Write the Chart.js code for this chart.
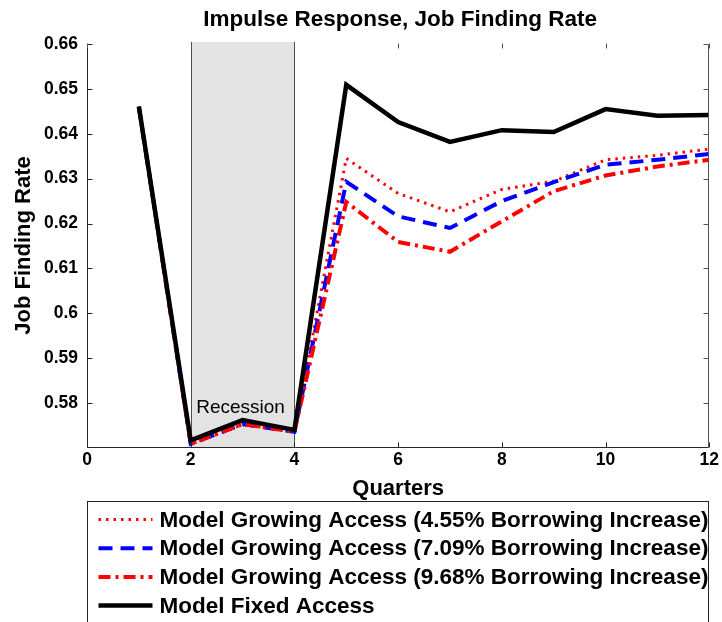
<!DOCTYPE html>
<html lang="en">
<head>
<meta charset="UTF-8">
<title>Impulse Response, Job Finding Rate</title>
<script src="https://cdn.jsdelivr.net/npm/chart.js"></script>
<style>
  html, body { margin: 0; padding: 0; background: #fff; }
  canvas { display: block; }
</style>
</head>
<body>
<canvas id="chartJFR" width="722" height="622"></canvas>
<script>
// values
const quarters    = [1, 2, 3, 4, 5, 6, 7, 8, 9, 10, 11, 12];
const growing455  = [0.6460, 0.5708, 0.5752, 0.5736, 0.6345, 0.6267, 0.6226, 0.6276, 0.6294, 0.6342, 0.6352, 0.6366];
const growing709  = [0.6460, 0.5709, 0.5753, 0.5736, 0.6293, 0.6216, 0.6190, 0.6250, 0.6292, 0.6331, 0.6342, 0.6355];
const growing968  = [0.6460, 0.5709, 0.5753, 0.5736, 0.6248, 0.6159, 0.6137, 0.6205, 0.6272, 0.6307, 0.6327, 0.6342];
const fixedAccess = [0.6461, 0.5717, 0.5762, 0.5740, 0.6509, 0.6426, 0.6382, 0.6408, 0.6404, 0.6455, 0.6440, 0.6442];
const xTicks = [0, 2, 4, 6, 8, 10, 12];
const yTicks = [0.58, 0.59, 0.6, 0.61, 0.62, 0.63, 0.64, 0.65, 0.66];
const recession = [2, 4];
const chartTitle = 'Impulse Response, Job Finding Rate';

const FONT = '"Liberation Sans", Arial, Helvetica, sans-serif';

const pts = arr => quarters.map((q, i) => ({ x: q, y: arr[i] }));

// shading, box, inward ticks, title over the axes and the boxed legend (MATLAB look)
const matlabFrame = {
    id: 'matlabFrame',
    beforeDatasetsDraw(chart) {
        const { ctx, chartArea: a, scales: { x, y } } = chart;
        const x0 = Math.round(x.getPixelForValue(recession[0])) + 0.5;
        const x1 = Math.round(x.getPixelForValue(recession[1])) + 0.5;
        ctx.save();
        ctx.fillStyle = '#e3e3e3';
        ctx.fillRect(x0, a.top - 2, x1 - x0, a.bottom - a.top + 2);
        ctx.strokeStyle = '#4d4d4d';
        ctx.lineWidth = 1;
        ctx.beginPath();
        ctx.moveTo(x0, a.top - 2); ctx.lineTo(x0, a.bottom);
        ctx.moveTo(x1, a.top - 2); ctx.lineTo(x1, a.bottom);
        ctx.stroke();
        ctx.fillStyle = '#000';
        ctx.font = '19px ' + FONT;
        ctx.textAlign = 'center';
        ctx.textBaseline = 'middle';
        ctx.fillText('Recession', x.getPixelForValue(3) - 2, y.getPixelForValue(0.5789));
        ctx.restore();
    },
    afterDraw(chart) {
        const { ctx, chartArea: a, scales: { x, y } } = chart;
        const L = Math.round(a.left) + 0.5, R = Math.round(a.right) - 0.5;
        const T = Math.round(a.top) + 0.5, B = Math.round(a.bottom) + 0.5;
        const tl = 5;
        ctx.save();

        // title, centred over the plot box
        ctx.fillStyle = '#000';
        ctx.font = 'bold 22.5px ' + FONT;
        ctx.textAlign = 'center';
        ctx.textBaseline = 'middle';
        ctx.fillText(chartTitle, (a.left + a.right) / 2 + 2, 20);

        ctx.lineWidth = 1;
        ctx.strokeStyle = '#262626';
        ctx.beginPath();
        ctx.moveTo(L, T); ctx.lineTo(L, B); ctx.lineTo(R, B);
        yTicks.forEach(v => {
            const py = Math.round(y.getPixelForValue(v)) + 0.5;
            ctx.moveTo(L, py); ctx.lineTo(L + tl, py);
        });
        xTicks.forEach(v => {
            const px = Math.round(x.getPixelForValue(v)) + 0.5;
            ctx.moveTo(px, B); ctx.lineTo(px, B - tl);
        });
        ctx.stroke();
        ctx.strokeStyle = '#555';
        ctx.beginPath();
        ctx.moveTo(R, T); ctx.lineTo(R, B);
        yTicks.forEach(v => {
            const py = Math.round(y.getPixelForValue(v)) + 0.5;
            ctx.moveTo(R, py); ctx.lineTo(R - tl, py);
        });
        xTicks.forEach(v => {
            const px = Math.round(x.getPixelForValue(v)) + 0.5;
            ctx.moveTo(px, T - 1); ctx.lineTo(px, T - 1 + tl);
        });
        ctx.stroke();

        // legend box below the axis title
        const top = Math.round(a.bottom) + 54.5;
        ctx.strokeStyle = '#262626';
        ctx.strokeRect(L, top, R - L, 130);
        ctx.font = 'bold 22.5px ' + FONT;
        ctx.textAlign = 'left';
        ctx.textBaseline = 'middle';
        chart.data.datasets.forEach((ds, i) => {
            const cy = top + 18 + i * 28.7;
            ctx.save();
            ctx.strokeStyle = ds.borderColor;
            ctx.lineWidth = ds.borderWidth;
            ctx.setLineDash(ds.borderDash || []);
            ctx.beginPath();
            ctx.moveTo(L + 11, cy); ctx.lineTo(L + 65, cy);
            ctx.stroke();
            ctx.restore();
            ctx.fillStyle = '#000';
            ctx.fillText(ds.label, L + 72, cy + 1);
        });
        ctx.restore();
    }
};

const ctx = document.getElementById('chartJFR').getContext('2d');
const chart = new Chart(ctx, {
    type: 'line',
    data: {
        datasets: [{
            label: 'Model Growing Access (4.55% Borrowing Increase)',
            data: pts(growing455),
            borderColor: '#ff0000',
            borderWidth: 3,
            borderDash: [2.5, 5],
            order: 3
        }, {
            label: 'Model Growing Access (7.09% Borrowing Increase)',
            data: pts(growing709),
            borderColor: '#0000ff',
            borderWidth: 4,
            borderDash: [14, 8],
            order: 2
        }, {
            label: 'Model Growing Access (9.68% Borrowing Increase)',
            data: pts(growing968),
            borderColor: '#ff0000',
            borderWidth: 4,
            borderDash: [12, 5, 3, 5],
            order: 1
        }, {
            label: 'Model Fixed Access',
            data: pts(fixedAccess),
            borderColor: '#000000',
            borderWidth: 4.5,
            order: 0
        }]
    },
    options: {
        responsive: false,
        animation: false,
        devicePixelRatio: 1,
        elements: {
            point: { radius: 0 },
            line: { tension: 0, fill: false, borderJoinStyle: 'miter' }
        },
        layout: { padding: { left: 0, right: 11, top: 44, bottom: 122 } },
        plugins: {
            legend: { display: false },
            tooltip: { enabled: false },
            title: { display: false }
        },
        scales: {
            x: {
                type: 'linear',
                min: 0,
                max: 12,
                afterBuildTicks: s => { s.ticks = xTicks.map(v => ({ value: v })); },
                afterFit: s => { s.height = 53; },
                grid: { display: false, drawTicks: false },
                border: { display: false },
                ticks: {
                    color: '#000',
                    padding: 3,
                    maxRotation: 0,
                    font: { family: FONT, size: 17.5, weight: 'bold' },
                    callback: v => String(v)
                },
                title: {
                    display: true,
                    text: 'Quarters',
                    color: '#000',
                    font: { family: FONT, size: 22, weight: 'bold', lineHeight: 1 },
                    padding: { top: 0, bottom: 0 }
                }
            },
            y: {
                min: 0.5702,
                max: 0.66,
                afterBuildTicks: s => { s.ticks = yTicks.map(v => ({ value: v })); },
                afterFit: s => { s.width = 87; },
                grid: { display: false, drawTicks: false },
                border: { display: false },
                ticks: {
                    color: '#000',
                    padding: 9,
                    font: { family: FONT, size: 17.5, weight: 'bold' },
                    callback: v => String(+v.toFixed(2))
                },
                title: {
                    display: true,
                    text: 'Job Finding Rate',
                    color: '#000',
                    font: { family: FONT, size: 22, weight: 'bold', lineHeight: 1 },
                    padding: { top: 13, bottom: 0 }
                }
            }
        }
    },
    plugins: [matlabFrame]
});
</script>
</body>
</html>
